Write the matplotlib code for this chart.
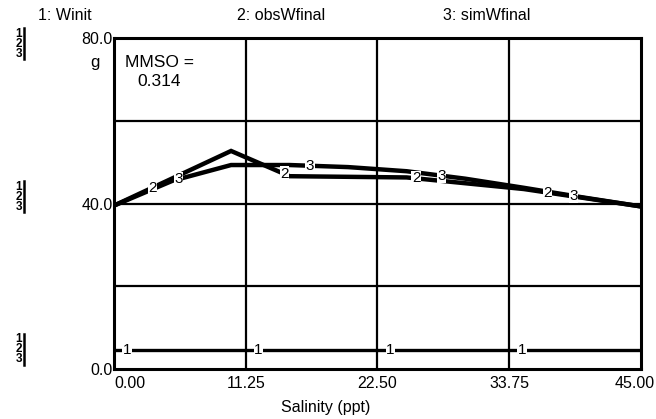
import numpy as np
import matplotlib
matplotlib.use("Agg")
import matplotlib.pyplot as plt
from matplotlib.transforms import ScaledTranslation

plt.rcParams['font.family'] = ['Liberation Sans', 'DejaVu Sans']

# data
salinity_w = [0.0, 45.0]
winit = [4.5, 4.5]

salinity_obs = [0.0, 10.0, 15.0, 25.0, 35.0, 45.0]
obs_wfinal = [39.5, 52.7, 46.6, 46.3, 43.5, 39.3]

salinity_sim = [0.0, 5.0, 10.0, 15.0, 20.0, 25.0, 30.0, 35.0, 40.0, 45.0]
sim_wfinal = [39.5, 45.5, 49.3, 49.3, 48.8, 47.8, 46.0, 43.8, 41.5, 39.3]

x_ticks = [0.0, 11.25, 22.5, 33.75, 45.0]
y_ticks = [0.0, 20.0, 40.0, 60.0, 80.0]
y_labels = ['0.0', '', '40.0', '', '80.0']

series_names = ['1: Winit', '2: obsWfinal', '3: simWfinal']
label_x = {1: 1.1, 2: 3.3, 3: 5.5}   # first marker of each series
label_step = 11.25

fig = plt.figure(figsize=(6.56, 4.19), dpi=100)
ax = fig.add_axes([0.1738, 0.1193, 0.803, 0.790])

ax.set_xlim(0, 45)
ax.set_ylim(0, 80)

for v in x_ticks[1:-1]:
    ax.axvline(v, color='black', lw=1.6, zorder=1)
for v in y_ticks[1:-1]:
    ax.axhline(v, color='black', lw=1.6, zorder=1)
for s in ax.spines.values():
    s.set_linewidth(2.2)

series = [
    (1, salinity_w, winit, 2.4),
    (2, salinity_obs, obs_wfinal, 3.2),
    (3, salinity_sim, sim_wfinal, 3.2),
]
for num, xs, ys, lw in series:
    ax.plot(xs, ys, color='black', lw=lw, solid_joinstyle='miter', zorder=3)
    lx = label_x[num]
    while lx < 45:
        ly = np.interp(lx, xs, ys)
        ax.text(lx, ly, str(num), ha='center', va='center', fontsize=11,
                bbox=dict(facecolor='white', edgecolor='none', pad=0.3),
                zorder=4)
        lx += label_step

ax.set_xticks(x_ticks)
ax.set_xticklabels(['%.2f' % v for v in x_ticks], fontsize=11.5)
ax.set_yticks(y_ticks)
ax.set_yticklabels(y_labels, fontsize=11.5)
ax.tick_params(axis='x', length=0, pad=5)
ax.tick_params(axis='y', length=0, pad=1)
xl = ax.get_xticklabels()
xl[0].set_ha('left')
xl[-1].set_ha('right')
xl[-1].set_transform(xl[-1].get_transform() + ScaledTranslation(0.14, 0, fig.dpi_scale_trans))

fig.text(0.497, 0.027, 'Salinity (ppt)', fontsize=11.5, ha='center', va='center')

ax.text(0.021, 0.925, 'MMSO =', transform=ax.transAxes, fontsize=12.5, va='center')
ax.text(0.044, 0.87, '0.314', transform=ax.transAxes, fontsize=12.5, va='center')
fig.text(0.152, 0.850, 'g', fontsize=12, ha='right', va='center')

# series names along the top
for name, xpos in zip(series_names, [0.099, 0.428, 0.742]):
    fig.text(xpos, 0.964, name, fontsize=11.5, ha='center', va='center')

# little 1/2/3 scale markers on the left
for yc in [0.895, 0.530, 0.167]:
    fig.text(0.034, yc, '1\n2\n3', fontsize=8.5, ha='right', va='center',
             fontweight='bold', linespacing=0.78)
    fig.add_artist(plt.Line2D([0.037, 0.037], [yc - 0.037, yc + 0.037],
                              transform=fig.transFigure, color='black', lw=1.8))

fig.savefig('out.png', dpi=100)
